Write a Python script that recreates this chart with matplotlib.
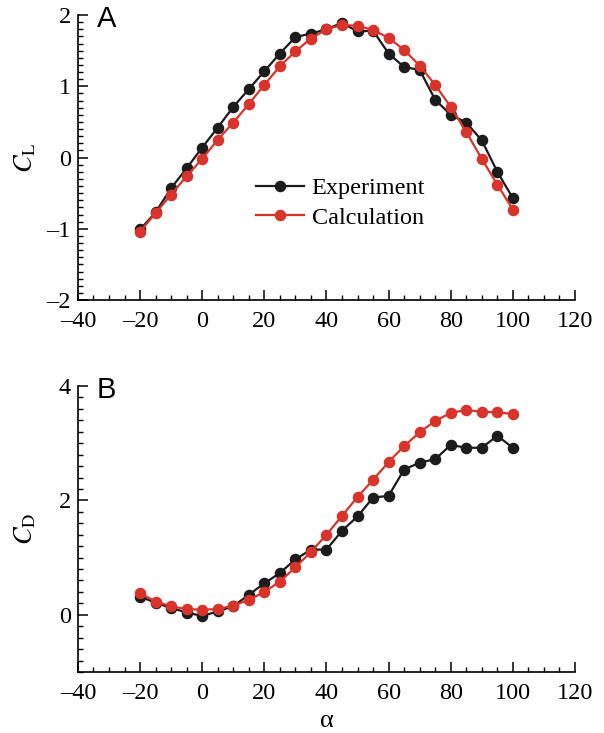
import matplotlib.pyplot as plt
from matplotlib.ticker import MultipleLocator

# angle of attack (deg)
alpha = [-20, -15, -10, -5, 0, 5, 10, 15, 20, 25, 30, 35, 40, 45, 50,
         55, 60, 65, 70, 75, 80, 85, 90, 95, 100]

# lift coefficient
cl_exp = [-1.01, -0.77, -0.43, -0.15, 0.14, 0.42, 0.71, 0.96, 1.21, 1.46, 1.69, 1.74, 1.80,
          1.89, 1.77, 1.78, 1.46, 1.27, 1.23, 0.81, 0.60, 0.49, 0.24, -0.20, -0.57]
cl_calc = [-1.04, -0.78, -0.52, -0.26, -0.02, 0.25, 0.49, 0.75, 1.02, 1.28, 1.49, 1.67, 1.80,
           1.86, 1.85, 1.79, 1.68, 1.51, 1.29, 1.02, 0.71, 0.36, -0.02, -0.38, -0.73]

# drag coefficient
cd_exp = [0.32, 0.21, 0.12, 0.04, -0.02, 0.06, 0.15, 0.35, 0.55, 0.73, 0.97, 1.14, 1.14,
          1.47, 1.72, 2.05, 2.08, 2.54, 2.66, 2.72, 2.97, 2.92, 2.92, 3.13, 2.92]
cd_calc = [0.38, 0.23, 0.15, 0.10, 0.09, 0.10, 0.16, 0.26, 0.40, 0.58, 0.83, 1.10, 1.40,
           1.73, 2.06, 2.36, 2.67, 2.95, 3.19, 3.39, 3.53, 3.58, 3.55, 3.54, 3.51]

BLACK = "#1c1c1c"
RED = "#d8342c"
SERIF = "Liberation Serif"

plt.rcParams["font.family"] = SERIF
plt.rcParams["mathtext.fontset"] = "stix"

fig = plt.figure(figsize=(6.04, 7.33), dpi=100)
ax_a = fig.add_axes([0.129, 0.5907, 0.823, 0.3888])
ax_b = fig.add_axes([0.129, 0.0832, 0.823, 0.3902])

style = dict(marker="o", markersize=7.3, linewidth=1.6)


def dash(v, pos):
    return f"{v:.0f}".replace("-", "\u2013")


def setup(ax, ylim, ymajor, yminor):
    ax.set_xlim(-40, 120)
    ax.set_ylim(*ylim)
    ax.xaxis.set_major_locator(MultipleLocator(20))
    ax.xaxis.set_minor_locator(MultipleLocator(5))
    ax.yaxis.set_major_locator(MultipleLocator(ymajor))
    ax.yaxis.set_minor_locator(MultipleLocator(yminor))
    for side in ("top", "right"):
        ax.spines[side].set_visible(False)
    for side in ("left", "bottom"):
        ax.spines[side].set_linewidth(1.2)
    ax.tick_params(which="major", direction="in", length=7, width=1.1, labelsize=17.5)
    ax.tick_params(axis="x", which="major", pad=8)
    ax.tick_params(axis="y", which="major", pad=5)
    ax.tick_params(which="minor", direction="in", length=3.5, width=1.0)
    ax.xaxis.set_major_formatter(plt.FuncFormatter(dash))
    ax.yaxis.set_major_formatter(plt.FuncFormatter(dash))


# panel A: lift
setup(ax_a, (-2, 2), 1, 0.1)
ax_a.plot(alpha, cl_exp, color=BLACK, label="Experiment", **style)
ax_a.plot(alpha, cl_calc, color=RED, label="Calculation", **style)
ax_a.set_ylabel(r"$C_{\mathrm{L}}$", fontsize=19)
ax_a.yaxis.set_label_coords(-0.08, 0.5)
ax_a.legend(loc="center left", bbox_to_anchor=(0.333, 0.34), frameon=False, fontsize=17.5,
            handlelength=2.0, handletextpad=0.3, labelspacing=0.3, borderpad=0)
ax_a.text(0.038, 1.035, "A", transform=ax_a.transAxes, va="top", ha="left",
          fontsize=21, family="Liberation Sans")

# panel B: drag
setup(ax_b, (-1, 4), 2, 0.2)
ax_b.plot(alpha, cd_exp, color=BLACK, **style)
ax_b.plot(alpha, cd_calc, color=RED, **style)
ax_b.set_ylabel(r"$C_{\mathrm{D}}$", fontsize=19)
ax_b.yaxis.set_label_coords(-0.08, 0.5)
ax_b.set_xlabel("α", fontsize=19, labelpad=4)
ax_b.text(0.038, 1.035, "B", transform=ax_b.transAxes, va="top", ha="left",
          fontsize=21, family="Liberation Sans")

fig.savefig("out.png", dpi=100)
